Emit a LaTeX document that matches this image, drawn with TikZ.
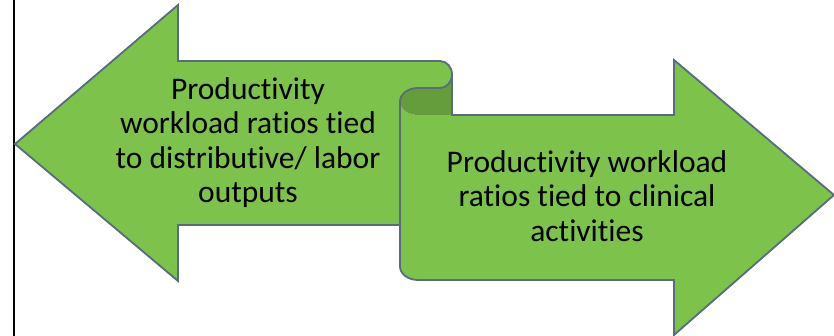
\documentclass[tikz,border=0pt]{standalone}
\usepackage{fontspec}
\setmainfont[Ligatures={NoCommon, NoRequired, NoContextual}]{Carlito}
\usepackage{tikz}
\definecolor{ribbonGreen}{RGB}{125, 194, 75}
\definecolor{ribbonShade}{RGB}{101, 156, 60}
\definecolor{ribbonLine}{RGB}{88, 108, 126}
\tikzset{
  ribbonfill/.style={fill=ribbonGreen, draw=none},
  ribbonedge/.style={draw=ribbonLine, line width=1.8pt},
  ribbontext/.style={align=center, inner sep=0pt, font=\fontsize{31.5}{34.5}\selectfont}
}
\begin{document}
\begin{tikzpicture}[x=1pt, y=1pt]

  \useasboundingbox (0, 0) rectangle (834, 336);
  % frame line on the left
  \draw[black, line width=2pt] (14, 0) -- (14, 336);

  % fills
  \fill[ribbonfill] (15, 192) -- (178, 331) -- (178, 275) -- (440, 275)
    arc[start angle=90, end angle=-90, x radius=12pt, y radius=13.5pt] -- (418, 248)
    arc[start angle=90, end angle=180, x radius=18pt, y radius=13.5pt] -- (400, 111)
    -- (178, 111) -- (178, 55) -- cycle;
  \fill[ribbonfill] (400, 234) -- (400, 69.5)
    arc[start angle=180, end angle=270, x radius=18pt, y radius=13.5pt] -- (674, 56)
    -- (674, 1) -- (834, 141) -- (674, 276) -- (674, 221) -- (418, 221)
    arc[start angle=270, end angle=180, x radius=18pt, y radius=13.5pt] -- cycle;
  \fill[ribbonShade] (452, 261.5) -- (452, 221) -- (418, 221)
    arc[start angle=270, end angle=180, x radius=18pt, y radius=13.5pt]
    arc[start angle=180, end angle=90, x radius=18pt, y radius=13.5pt] -- (440, 248)
    arc[start angle=-90, end angle=0, x radius=12pt, y radius=13.5pt] -- cycle;

  % outlines
  \draw[ribbonedge] (15, 192) -- (178, 331) -- (178, 275) -- (440, 275)
    arc[start angle=90, end angle=-90, x radius=12pt, y radius=13.5pt] -- (418, 248)
    arc[start angle=90, end angle=180, x radius=18pt, y radius=13.5pt] -- (400, 111)
    -- (178, 111) -- (178, 55) -- cycle;
  \draw[ribbonedge] (452, 261.5) -- (452, 221) -- (674, 221) -- (674, 276)
    -- (834, 141) -- (674, 1) -- (674, 56) -- (418, 56)
    arc[start angle=270, end angle=180, x radius=18pt, y radius=13.5pt] -- (400, 234);

  \node[ribbontext] (leftText) at (248, 193.5) {Productivity\\workload ratios tied\\to distributive/ labor\\outputs};
  \node[ribbontext] (rightText) at (587, 140) {Productivity workload\\ratios tied to clinical\\activities};

\end{tikzpicture}
\end{document}
